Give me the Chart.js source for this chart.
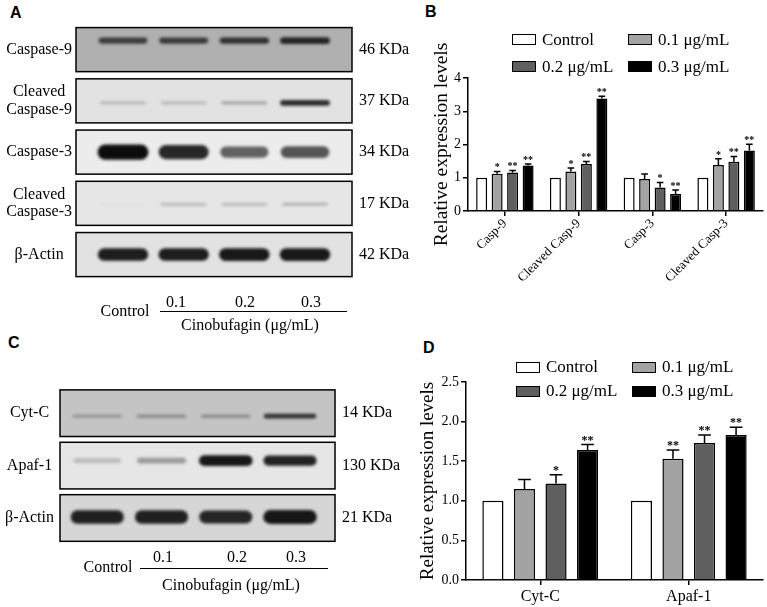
<!DOCTYPE html>
<html>
<head>
<meta charset="utf-8">
<script src="https://cdn.jsdelivr.net/npm/chart.js@4.4.1/dist/chart.umd.min.js"></script>
<style>
  body { margin: 0; background: #fff; }
  #fig { position: relative; width: 767px; height: 607px; overflow: hidden;
         font-family: 'Liberation Serif', 'Times New Roman', serif; color: #000; }
  canvas { position: absolute; }
  .letter { position: absolute; font: bold 16px 'Liberation Sans', Arial, sans-serif; line-height: 1; }
  .t { position: absolute; white-space: nowrap; font-size: 16px; line-height: 1; transform: translate(-50%, -50%); }
  .rule { position: absolute; height: 0; border-top: 1.5px solid #000; }
  .legend { position: absolute; display: grid; grid-template-columns: 116px 116px;
            font-family: 'Liberation Serif', 'Times New Roman', serif; font-size: 17px; }
  .legend div { display: flex; align-items: center; white-space: nowrap; font-family: 'Liberation Serif', serif; }
  .legend i { display: inline-block; width: 22px; height: 9px; border: 1.5px solid #000; margin-right: 6px; }
</style>
</head>
<body>
<div id="fig">
  <div class="letter" style="left:10px;top:5px">A</div>
  <div class="letter" style="left:425px;top:4px">B</div>
  <div class="letter" style="left:8px;top:335px">C</div>
  <div class="letter" style="left:423px;top:340px">D</div>

  <canvas id="blotA" width="420" height="296" style="left:0;top:0"></canvas>
  <canvas id="blotC" width="420" height="260" style="left:0;top:300px"></canvas>
  <canvas id="chartB" width="367" height="300" style="left:400px;top:0"></canvas>
  <canvas id="chartD" width="367" height="307" style="left:400px;top:300px"></canvas>

  <div class="t" style="left:125px;top:311px">Control</div>
  <div class="t" style="left:176px;top:302px">0.1</div>
  <div class="t" style="left:245px;top:302px">0.2</div>
  <div class="t" style="left:311px;top:302px">0.3</div>
  <div class="rule" style="left:160px;top:311px;width:187px"></div>
  <div class="t" style="left:250px;top:325px">Cinobufagin (μg/mL)</div>

  <div class="t" style="left:108px;top:567px">Control</div>
  <div class="t" style="left:163px;top:557px">0.1</div>
  <div class="t" style="left:237px;top:557px">0.2</div>
  <div class="t" style="left:296px;top:557px">0.3</div>
  <div class="rule" style="left:140px;top:568px;width:188px"></div>
  <div class="t" style="left:231px;top:585px">Cinobufagin (μg/mL)</div>

  <div class="legend" id="legendB" style="left:512px;top:26px;grid-auto-rows:27px"></div>
  <div class="legend" id="legendD" style="left:516px;top:355px;grid-auto-rows:24px"></div>
</div>
<script>
// ---- data ----
const doseLabels = ['Control', '0.1 μg/mL', '0.2 μg/mL', '0.3 μg/mL'];
const blotLanes = [1, 2, 3, 4];

// panel A blots (relative band darkness per lane)
const rowsA = ['Caspase-9', ['Cleaved', 'Caspase-9'], 'Caspase-3', ['Cleaved', 'Caspase-3'], 'β-Actin'];
const kdaA = ['46 KDa', '37 KDa', '34 KDa', '17 KDa', '42 KDa'];
const bandA_casp9 = [0.70, 0.72, 0.78, 0.85];
const bandA_cleavedCasp9 = [0.22, 0.22, 0.28, 0.85];
const bandA_casp3 = [1.0, 0.88, 0.62, 0.68];
const bandA_cleavedCasp3 = [0.03, 0.22, 0.22, 0.24];
const bandA_actin = [0.92, 0.92, 0.94, 0.94];

// panel B
const categoriesB = ['Casp-9', 'Cleaved Casp-9', 'Casp-3', 'Cleaved Casp-3'];
const meanB_control = [1, 1, 1, 1];
const meanB_01 = [1.12, 1.19, 0.96, 1.38];
const meanB_02 = [1.16, 1.41, 0.71, 1.48];
const meanB_03 = [1.37, 3.38, 0.51, 1.82];
const errB_control = [0, 0, 0, 0];
const errB_01 = [0.07, 0.10, 0.15, 0.19];
const errB_02 = [0.06, 0.08, 0.15, 0.16];
const errB_03 = [0.04, 0.07, 0.12, 0.19];
const sigB_control = ['', '', '', ''];
const sigB_01 = ['*', '*', '', '*'];
const sigB_02 = ['**', '**', '*', '**'];
const sigB_03 = ['**', '**', '**', '**'];
const ticksB = [0, 1, 2, 3, 4];

// panel C blots
const rowsC = ['Cyt-C', 'Apaf-1', 'β-Actin'];
const kdaC = ['14 KDa', '130 KDa', '21 KDa'];
const bandC_cytc = [0.30, 0.35, 0.35, 0.80];
const bandC_apaf1 = [0.20, 0.35, 0.95, 0.90];
const bandC_actin = [0.90, 0.90, 0.88, 0.95];

// panel D
const categoriesD = ['Cyt-C', 'Apaf-1'];
const meanD_control = [1, 1];
const meanD_01 = [1.15, 1.53];
const meanD_02 = [1.22, 1.73];
const meanD_03 = [1.64, 1.83];
const errD_control = [0, 0];
const errD_01 = [0.12, 0.11];
const errD_02 = [0.11, 0.10];
const errD_03 = [0.07, 0.10];
const sigD_control = ['', ''];
const sigD_01 = ['', '**'];
const sigD_02 = ['*', '**'];
const sigD_03 = ['**', '**'];
const ticksD = [0, 0.5, 1.0, 1.5, 2.0, 2.5];

// ---- style ----
const serif = "'Liberation Serif', 'Times New Roman', serif";
const doseColors = ['#ffffff', '#a3a3a3', '#5f5f5f', '#000000'];

// bands drawn at each point's pixel position, boxes from the category rows
const blotPlugin = {
  id: 'blot',
  afterDatasetsDraw(chart, args, opts) {
    const { ctx, chartArea, scales: { x, y } } = chart;
    const rowStep = Math.abs(y.getPixelForValue(1) - y.getPixelForValue(0));
    const laneStep = x.getPixelForValue(2) - x.getPixelForValue(1);
    const boxH = rowStep * opts.boxRatio;

    opts.fills.forEach((fill, r) => {
      const cy = y.getPixelForValue(r);
      ctx.fillStyle = fill;
      ctx.fillRect(chartArea.left, cy - boxH / 2, chartArea.width, boxH);
    });

    const ds = chart.data.datasets[0];
    chart.getDatasetMeta(0).data.forEach((pt, k) => {
      const item = ds.data[k];
      const v = item.v;
      const h = opts.thick[item.y] * (0.3 + 0.8 * v);
      const w = laneStep * (0.72 + 0.12 * v);
      const cy = pt.y + opts.shift[item.y];
      ctx.save();
      ctx.filter = 'blur(1.6px)';
      ctx.fillStyle = 'rgba(12,12,12,' + v + ')';
      ctx.beginPath();
      ctx.roundRect(pt.x - w / 2, cy - h / 2, w, h, h / 2);
      ctx.fill();
      ctx.restore();
    });

    ctx.save();
    ctx.strokeStyle = '#000';
    ctx.lineWidth = 1.5;
    opts.fills.forEach((fill, r) => {
      const cy = y.getPixelForValue(r);
      ctx.strokeRect(chartArea.left, cy - boxH / 2, chartArea.width, boxH);
    });
    ctx.restore();
  }
};

function CreateBlot(id, rows, kda, bands, laneMin, laneMax, style) {
  const points = [];
  bands.forEach((row, r) => row.forEach((v, l) => points.push({ x: blotLanes[l], y: r, v: v })));
  const tickFont = { family: serif, size: style.fontSize, lineHeight: 1.1 };
  return new Chart(document.getElementById(id), {
    type: 'scatter',
    data: { datasets: [{ data: points, pointRadius: 0, pointHoverRadius: 0 }] },
    options: {
      responsive: false, animation: false, events: [], parsing: false,
      layout: { padding: style.padding },
      plugins: { legend: { display: false }, tooltip: { enabled: false }, blot: style },
      scales: {
        x: { type: 'linear', display: false, min: laneMin, max: laneMax },
        y: {
          type: 'category', labels: rows, offset: true, position: 'left',
          grid: { display: false, drawTicks: false }, border: { display: false },
          ticks: { color: '#000', font: tickFont, crossAlign: 'center', padding: style.leftPad },
          afterFit: s => { s.width = style.leftWidth; }
        },
        y2: {
          type: 'category', labels: kda, offset: true, position: 'right',
          grid: { display: false, drawTicks: false }, border: { display: false },
          ticks: { color: '#000', font: tickFont, crossAlign: 'near', padding: 7 },
          afterFit: s => { s.width = style.rightWidth; }
        }
      }
    },
    plugins: [blotPlugin]
  });
}

// error bars + significance stars
const errorPlugin = {
  id: 'errorBars',
  afterDatasetsDraw(chart, args, opts) {
    const { ctx, scales: { y } } = chart;
    ctx.save();
    ctx.strokeStyle = '#000';
    ctx.lineWidth = 1.5;
    ctx.fillStyle = '#000';
    ctx.textAlign = 'center';
    ctx.textBaseline = 'alphabetic';
    ctx.font = 'bold ' + opts.starSize + 'px ' + serif;
    chart.data.datasets.forEach((ds, i) => {
      chart.getDatasetMeta(i).data.forEach((bar, j) => {
        const err = ds.errors[j];
        const top = y.getPixelForValue(ds.data[j] + err);
        if (err > 0) {
          const cap = bar.width * 0.3;
          ctx.beginPath();
          ctx.moveTo(bar.x, bar.y);
          ctx.lineTo(bar.x, top);
          ctx.moveTo(bar.x - cap, top);
          ctx.lineTo(bar.x + cap, top);
          ctx.stroke();
        }
        if (ds.stars[j]) ctx.fillText(ds.stars[j], bar.x, top - opts.starGap);
      });
    });
    ctx.restore();
  }
};

function CreateBars(id, categories, means, errs, stars, cfg) {
  return new Chart(document.getElementById(id), {
    type: 'bar',
    data: {
      labels: categories,
      datasets: doseLabels.map((label, i) => ({
        label: label,
        data: means[i],
        errors: errs[i],
        stars: stars[i],
        backgroundColor: doseColors[i],
        borderColor: '#000',
        borderWidth: 1.5,
        borderSkipped: 'start',
        categoryPercentage: cfg.catPct,
        barPercentage: cfg.barPct
      }))
    },
    options: {
      responsive: false, animation: false, events: [],
      layout: { padding: cfg.padding },
      plugins: {
        legend: { display: false }, tooltip: { enabled: false },
        errorBars: { starSize: cfg.starSize, starGap: cfg.starGap }
      },
      scales: {
        x: {
          z: 1,
          grid: { drawOnChartArea: false, offset: false, color: '#000', lineWidth: 1.5, tickLength: 5 },
          border: { color: '#000', width: 1.5 },
          ticks: {
            color: '#000', font: { family: serif, size: cfg.xFont }, autoSkip: false,
            minRotation: cfg.rotation, maxRotation: cfg.rotation, padding: cfg.xPad
          },
          afterFit: s => { s.height = cfg.xHeight; }
        },
        y: {
          min: cfg.ticks[0], max: cfg.ticks[cfg.ticks.length - 1],
          afterBuildTicks: s => { s.ticks = cfg.ticks.map(v => ({ value: v })); },
          grid: { drawOnChartArea: false, color: '#000', lineWidth: 1.5, tickLength: 5 },
          border: { color: '#000', width: 1.5 },
          ticks: {
            color: '#000', font: { family: serif, size: 14 }, padding: 2,
            callback: v => v.toFixed(cfg.decimals)
          },
          title: {
            display: true, text: 'Relative expression levels', color: '#000',
            font: { family: serif, size: cfg.titleSize }, padding: 0
          },
          afterFit: s => { s.width = cfg.yWidth; }
        }
      }
    },
    plugins: [errorPlugin]
  });
}

function BuildLegend(id, chart) {
  const box = document.getElementById(id);
  chart.data.datasets.forEach(ds => {
    const item = document.createElement('div');
    const swatch = document.createElement('i');
    swatch.style.background = ds.backgroundColor;
    const label = document.createElement('span');
    label.textContent = ds.label;
    item.appendChild(swatch);
    item.appendChild(label);
    box.appendChild(item);
  });
}

CreateBlot('blotA', rowsA, kdaA,
  [bandA_casp9, bandA_cleavedCasp9, bandA_casp3, bandA_cleavedCasp3, bandA_actin],
  0.225, 4.775, {
    padding: { top: 24, bottom: 2, left: 0, right: 0 },
    leftWidth: 76, rightWidth: 68, leftPad: 4, fontSize: 16, boxRatio: 0.86,
    fills: ['#b0b0b0', '#e2e2e2', '#ececec', '#e6e6e6', '#e2e2e2'],
    thick: [7, 6, 14, 6, 12],
    shift: [-9, 2, 0, 1, 0]
  });

CreateBlot('blotC', rowsC, kdaC,
  [bandC_cytc, bandC_apaf1, bandC_actin],
  0.42, 4.7, {
    padding: { top: 87, bottom: 11, left: 0, right: 0 },
    leftWidth: 60, rightWidth: 85, leftPad: 6, fontSize: 16, boxRatio: 0.89,
    fills: ['#c4c4c4', '#e6e6e6', '#d6d6d6'],
    thick: [5, 10, 13],
    shift: [3, -5, -1]
  });

const chartB = CreateBars('chartB', categoriesB,
  [meanB_control, meanB_01, meanB_02, meanB_03],
  [errB_control, errB_01, errB_02, errB_03],
  [sigB_control, sigB_01, sigB_02, sigB_03], {
    ticks: ticksB, decimals: 0, catPct: 0.84, barPct: 0.71,
    padding: { top: 78, left: 30, right: 4, bottom: 0 },
    yWidth: 38, xHeight: 89, xFont: 13, rotation: 45, xPad: 0,
    titleSize: 19.5, starSize: 10, starGap: 1
  });

const chartD = CreateBars('chartD', categoriesD,
  [meanD_control, meanD_01, meanD_02, meanD_03],
  [errD_control, errD_01, errD_02, errD_03],
  [sigD_control, sigD_01, sigD_02, sigD_03], {
    ticks: ticksD, decimals: 1, catPct: 0.85, barPct: 0.67,
    padding: { top: 82, left: 17, right: 4, bottom: 0 },
    yWidth: 49, xHeight: 27, xFont: 16, rotation: 0, xPad: 2,
    titleSize: 19, starSize: 12, starGap: 1
  });

BuildLegend('legendB', chartB);
BuildLegend('legendD', chartD);
</script>
</body>
</html>
